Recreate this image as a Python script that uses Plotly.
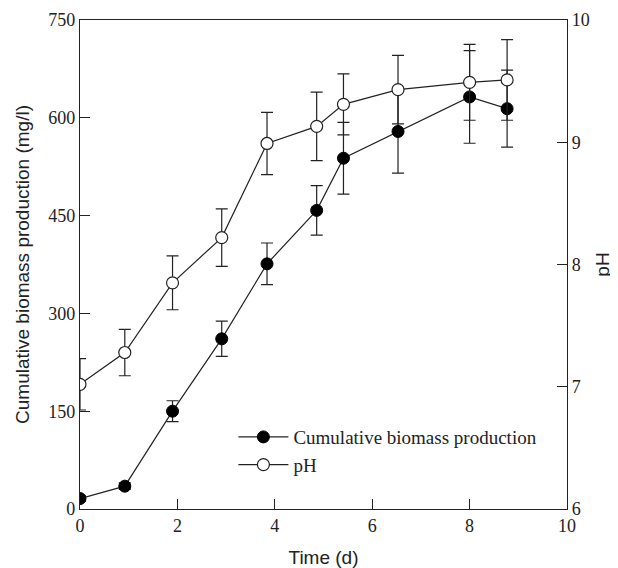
import plotly.graph_objects as go

time_bio = [0, 0.92, 1.9, 2.91, 3.84, 4.86, 5.41, 6.53, 8.0, 8.77]
biomass = [16, 35, 150, 261, 376, 458, 538, 579, 632, 614]
biomass_err = [4, 5, 16, 27, 32, 38, 55, 64, 71, 59]

time_ph = [0, 0.92, 1.9, 2.91, 3.84, 4.86, 5.41, 6.53, 8.0, 8.77]
ph = [7.02, 7.28, 7.85, 8.22, 8.99, 9.13, 9.31, 9.43, 9.49, 9.51]
ph_err = [0.21, 0.19, 0.22, 0.235, 0.255, 0.28, 0.25, 0.28, 0.31, 0.33]

x_ticks = [0, 2, 4, 6, 8, 10]
y_ticks = [0, 150, 300, 450, 600, 750]
y2_ticks = [6, 7, 8, 9, 10]

ink = "#222222"
serif = "Liberation Serif, Times New Roman, serif"
sans = "Liberation Sans, Arial, sans-serif"

fig = go.Figure()
fig.add_trace(go.Scatter(
    x=time_bio, y=biomass, name="Cumulative biomass production",
    mode="lines+markers", legendgroup="a",
    line=dict(color=ink, width=1.2),
    marker=dict(symbol="circle", size=12, color="black", line=dict(color="black", width=1)),
    error_y=dict(type="data", array=biomass_err, visible=True, color=ink, thickness=1.2, width=6),
))
fig.add_trace(go.Scatter(
    x=time_ph, y=ph, name="pH", yaxis="y2",
    mode="lines+markers", legendgroup="b",
    line=dict(color=ink, width=1.2),
    marker=dict(symbol="circle", size=12, color="white", line=dict(color=ink, width=1.2)),
    error_y=dict(type="data", array=ph_err, visible=True, color=ink, thickness=1.2, width=6),
))

fig.update_layout(
    width=610, height=560,
    margin=dict(l=72, r=51, t=12, b=59),
    paper_bgcolor="white", plot_bgcolor="white",
    showlegend=True,
    legend=dict(x=0.315, y=0.186, xanchor="left", yanchor="top",
                font=dict(family=serif, size=19, color=ink), itemwidth=50,
                bgcolor="rgba(0,0,0,0)", tracegroupgap=0, traceorder="grouped"),
    xaxis=dict(range=[0, 10], tickvals=x_ticks, ticks="inside", ticklen=10,
               tickcolor=ink, tickwidth=1.2, automargin=False,
               showline=True, linecolor=ink, linewidth=1.2, mirror=True,
               showgrid=False, zeroline=False,
               tickfont=dict(family=serif, size=18, color=ink),
               title=dict(text="Time (d)", font=dict(family=sans, size=19, color=ink), standoff=15)),
    yaxis=dict(range=[0, 750], tickvals=y_ticks, ticks="inside", ticklen=10,
               tickcolor=ink, tickwidth=1.2, automargin=False,
               showline=True, linecolor=ink, linewidth=1.2,
               showgrid=False, zeroline=False,
               tickfont=dict(family=serif, size=18, color=ink),
               title=dict(text="Cumulative biomass production (mg/l)",
                          font=dict(family=sans, size=19, color=ink), standoff=13)),
    yaxis2=dict(range=[6, 10], tickvals=y2_ticks, overlaying="y", side="right",
                ticks="inside", ticklen=10, tickcolor=ink, tickwidth=1.2, automargin=False,
                showline=True, linecolor=ink, linewidth=1.2,
                showgrid=False, zeroline=False,
                tickfont=dict(family=serif, size=18, color=ink),
                title=dict(text="pH", font=dict(family=sans, size=19, color=ink), standoff=6)),
)

fig.write_html("out.html")
